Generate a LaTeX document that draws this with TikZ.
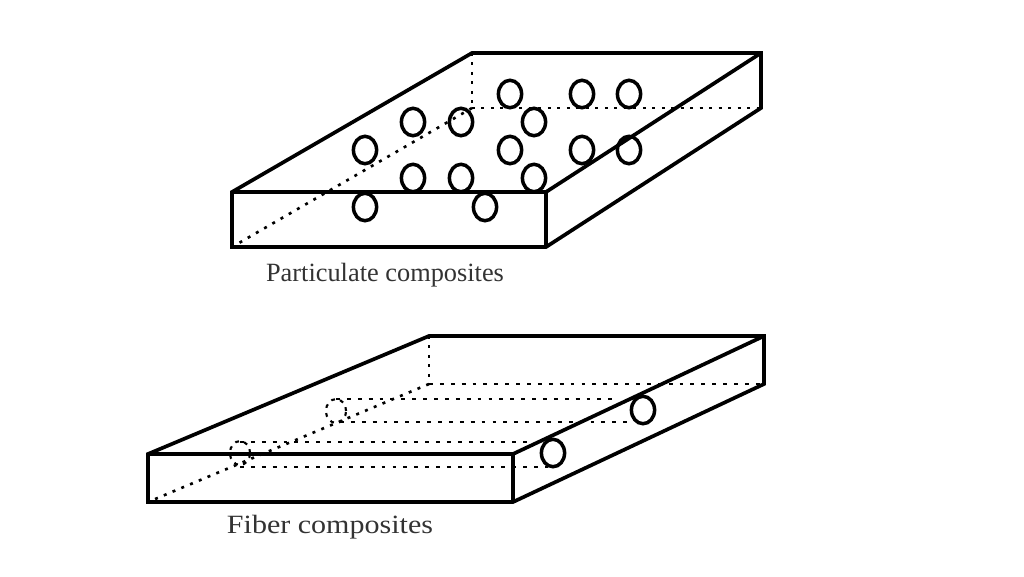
\documentclass[tikz,border=0pt]{standalone}
\usepackage{fontspec}
\setmainfont{Liberation Serif}
\usetikzlibrary{shapes.geometric}
\tikzset{solidedge/.style={line width=2.1pt,line join=miter,miter limit=2},}
\tikzset{hiddenedge/.style={line width=1.5pt,dash pattern=on 1.7pt off 3.7pt},}
\tikzset{fiberedge/.style={line width=1.3pt,dash pattern=on 2.2pt off 4pt},}
\tikzset{particle/.style={draw,ellipse,line width=2pt,minimum width=13.2pt,minimum height=15.6pt,inner sep=0pt},}
\tikzset{fiberend/.style={draw,ellipse,line width=1.2pt,dash pattern=on 2.2pt off 3pt,minimum width=11.5pt,minimum height=13.6pt,inner sep=0pt},}
\tikzset{caption/.style={font=\fontsize{15}{18}\selectfont,text=black!80,inner sep=0pt},}

\begin{document}
\begin{tikzpicture}[x=0.02cm,y=-0.02cm]
	\useasboundingbox (0,0) rectangle (1024,576);
	% particulate plate
	\coordinate (A) at (232,192);
	\coordinate (B) at (546,192);
	\coordinate (C) at (546,247);
	\coordinate (D) at (232,247);
	\coordinate (E) at (472,53);
	\coordinate (F) at (761,53);
	\coordinate (G) at (761,108);
	\coordinate (H) at (472,108);
	
	\draw[hiddenedge] (E) -- (H);
	\draw[hiddenedge] (H) -- (G);
	\draw[hiddenedge] (H) -- (D);
	\draw[solidedge] (A) -- (E) -- (F) -- (G) -- (C) -- (D) -- cycle;
	\draw[solidedge] (A) -- (B) -- (C);
	\draw[solidedge] (B) -- (F);
	
	\foreach \i/\x/\y in {1/510/94,2/582/94,3/629/94,4/413/122,5/461/122,6/534/122,7/365/150,8/510/150,9/582/150,10/629/150,11/413/178,12/461/178,13/534/178,14/365/207,15/485/207}
		\node[particle] (p\i) at (\x,\y) {};
	\node[caption] (pc) at (385,275) {Particulate composites};
	
	% fiber plate
	\coordinate (a) at (148,454);
	\coordinate (b) at (513,454);
	\coordinate (c) at (513,502);
	\coordinate (d) at (148,502);
	\coordinate (e) at (429,336);
	\coordinate (f) at (764,336);
	\coordinate (g) at (764,384);
	\coordinate (h) at (429,384);
	
	\coordinate (u1) at (336,399);
	\coordinate (u2) at (618,399);
	\coordinate (l1) at (340,422);
	\coordinate (l2) at (628,422);
	\coordinate (u3) at (240,442);
	\coordinate (u4) at (530,442);
	\coordinate (l3) at (240,467);
	\coordinate (l4) at (548,467);
	
	\draw[hiddenedge] (e) -- (h);
	\draw[fiberedge] (h) -- (g);
	\draw[hiddenedge] (h) -- (d);
	\draw[fiberedge] (u1) -- (u2);
	\draw[fiberedge] (l1) -- (l2);
	\draw[fiberedge] (u3) -- (u4);
	\draw[fiberedge] (l3) -- (l4);
	\draw[solidedge] (a) -- (e) -- (f) -- (g) -- (c) -- (d) -- cycle;
	\draw[solidedge] (a) -- (b) -- (c);
	\draw[solidedge] (b) -- (f);
	
	\node[fiberend] (f1) at (336,411) {};
	\node[fiberend] (f2) at (240,453) {};
	\node[particle] (f3) at (643,410) {};
	\node[particle] (f4) at (553,453) {};
	\node[caption,xscale=1.14] (fc) at (330,527) {Fiber composites};
\end{tikzpicture}
\end{document}
